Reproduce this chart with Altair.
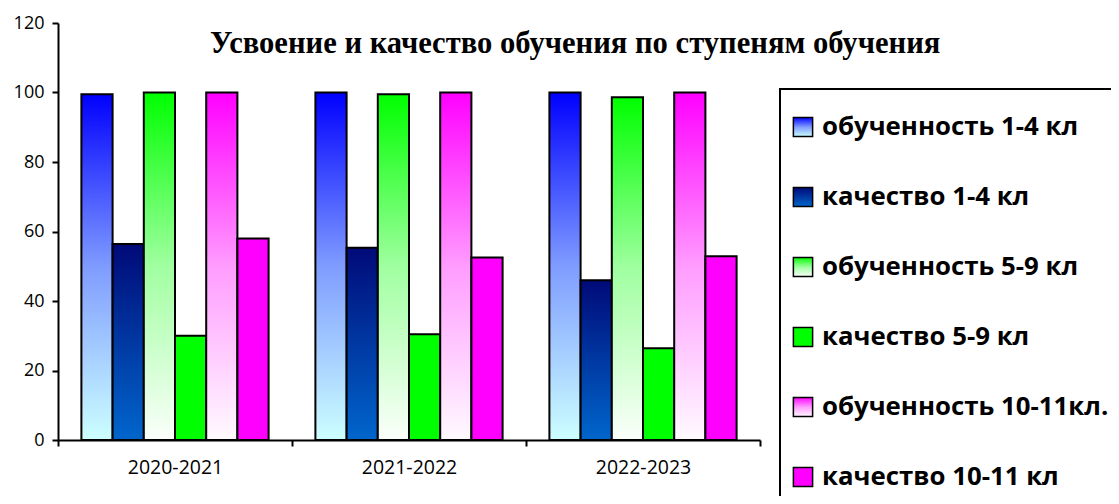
import altair as alt
import pandas as pd

years = ["2020-2021", "2021-2022", "2022-2023"]
series_names = [
    "обученность 1-4 кл",
    "качество 1-4 кл",
    "обученность 5-9 кл",
    "качество 5-9 кл",
    "обученность 10-11кл.",
    "качество 10-11 кл",
]
obuch_1_4 = [99.5, 100, 100]
kach_1_4 = [56.4, 55.3, 46.0]
obuch_5_9 = [100, 99.5, 98.6]
kach_5_9 = [30.0, 30.4, 26.4]
obuch_10_11 = [100, 100, 100]
kach_10_11 = [58.0, 52.5, 52.9]
y_ticks = [0, 20, 40, 60, 80, 100, 120]
title_text = "Усвоение и качество обучения по ступеням обучения"

all_values = [obuch_1_4, kach_1_4, obuch_5_9, kach_5_9, obuch_10_11, kach_10_11]
rows = []
for s, vals in zip(series_names, all_values):
    for yr, v in zip(years, vals):
        rows.append({"year": yr, "series": s, "value": v})
df = pd.DataFrame(rows)
leg_df = pd.DataFrame({"series": series_names})
title_df = pd.DataFrame({"t": [title_text]})


def grad(stops):
    return alt.LinearGradient(
        gradient="linear",
        stops=[alt.GradientStop(offset=o, color=c) for o, c in stops],
        x1=0, x2=0, y1=0, y2=1,
    )


fills = [
    grad([(0, "#0000FF"), (0.5, "#7F9CFF"), (1, "#CCFFFF")]),
    grad([(0, "#000A78"), (1, "#0066CC")]),
    grad([(0, "#00FF00"), (0.5, "#A0FFA0"), (1, "#FBFFFB")]),
    grad([(0, "#00FF00"), (1, "#00FF00")]),
    grad([(0, "#FF00FF"), (0.5, "#FF9CFF"), (1, "#FFFAFF")]),
    grad([(0, "#FF00FF"), (1, "#FF00FF")]),
]

FONT = "Open Sans"

x_enc = alt.X(
    "year:N", sort=years, title=None,
    scale=alt.Scale(paddingInner=0, paddingOuter=0),
    axis=alt.Axis(labelAngle=0, tickBand="extent", labelFont=FONT, labelFontSize=19.5,
                  labelColor="black", domainColor="black", domainWidth=2,
                  tickColor="black", tickWidth=2, tickSize=6, labelPadding=12, grid=False),
)
y_enc = alt.Y(
    "value:Q", title=None,
    scale=alt.Scale(domain=[0, 120], nice=False),
    axis=alt.Axis(values=y_ticks, labelFont=FONT, labelFontSize=18, labelColor="black",
                  domainColor="black", domainWidth=2, tickColor="black", tickWidth=2,
                  tickSize=6, labelPadding=8, grid=False),
)
off = alt.XOffset("series:N", sort=series_names,
                  scale=alt.Scale(domain=series_names, paddingOuter=0.75, paddingInner=0))

bar_layers = []
for s, f in zip(series_names, fills):
    bar_layers.append(
        alt.Chart(df)
        .transform_filter(alt.datum.series == s)
        .mark_bar(color=f, stroke="black", strokeWidth=2, opacity=1)
        .encode(x=x_enc, y=y_enc, xOffset=off)
    )
bars = alt.layer(*bar_layers)

title_mark = alt.Chart(title_df).mark_text(
    align="left", baseline="alphabetic", font="Liberation Serif", fontSize=30.6,
    fontWeight="bold", color="black"
).encode(text="t:N", x=alt.value(152), y=alt.value(30))

# legend (drawn beside the plot)
leg_y = alt.Y("series:N", sort=series_names, axis=None,
              scale=alt.Scale(domain=series_names, range=[69, 489],
                              paddingOuter=0, paddingInner=0))
frame = alt.Chart(title_df).mark_rect(
    fill="white", stroke="black", strokeWidth=2
).encode(x=alt.value(722), x2=alt.value(1200), y=alt.value(66), y2=alt.value(700))
sym_layers = []
for s, f in zip(series_names, fills):
    sym_layers.append(
        alt.Chart(leg_df)
        .transform_filter(alt.datum.series == s)
        .mark_square(size=370, color=f, stroke="black", strokeWidth=1.5, opacity=1)
        .encode(x=alt.value(745), y=leg_y)
    )
leg_text = alt.Chart(leg_df).mark_text(
    align="left", baseline="middle", font=FONT, fontSize=25.8, fontWeight="bold", color="black"
).encode(x=alt.value(764), y=leg_y, text="series:N")
legend = alt.layer(*sym_layers, leg_text)

chart = (
    alt.layer(bars, frame, legend, title_mark)
    .resolve_scale(y="independent")
    .properties(
        width=702, height=417,
        autosize=alt.AutoSizeParams(type="none"),
        padding={"left": 50, "top": 15, "right": 351, "bottom": 56},
        background="white",
    )
    .configure_view(stroke="transparent")
)

chart.save("out.html", embed_options={"renderer": "svg", "actions": False})
